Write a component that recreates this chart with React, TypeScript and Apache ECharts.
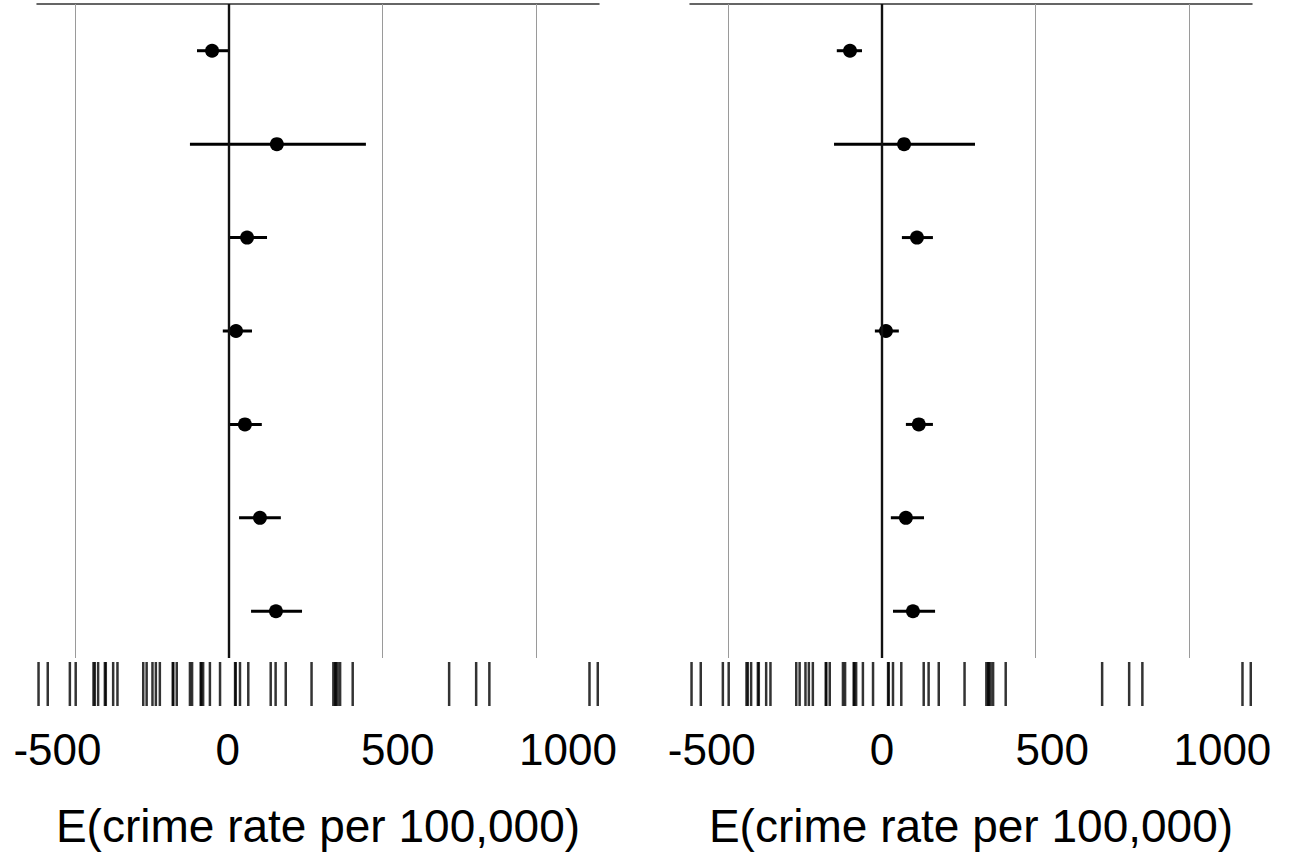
import React, { useEffect, useRef } from "react";
import * as echarts from "echarts";

const rows = ["1", "2", "3", "4", "5", "6", "7"];

const leftEst = [-55, 156, 59, 23, 52, 101, 153];
const leftLo = [-104, -127, 3, -20, 3, 33, 72];
const leftHi = [-3, 446, 124, 75, 107, 169, 238];

const rightEst = [-104, 72, 114, 13, 120, 78, 101];
const rightLo = [-147, -156, 65, -23, 78, 29, 36];
const rightHi = [-65, 303, 166, 55, 166, 137, 173];

const rugValues = [
  -620, -590, -518, -499, -441, -437, -426, -404, -401, -377, -363,
  -279, -268, -249, -238, -225, -183, -181, -170, -127, -120, -92, -90, -84,
  -62, -29, 20, 22, 36, 63, 136, 152, 185, 269,
  340, 346, 348, 354, 362, 403, 717, 805, 848, 1174, 1201,
];

const tickValues = [-500, 0, 500, 1000];
const gridValues = [-500, 500, 1000];
const xMin = -625;
const xMax = 1205;
// the tick-label ruler of the reference sits on a slightly wider scale
const labelMin = [-560, -564];
const labelMax = [1091, 1087];
const axisTitle = "E(crime rate per 100,000)";

const FONT = "Liberation Sans, Arial, sans-serif";

export default function App() {
  const ref = useRef<HTMLDivElement>(null);

  useEffect(() => {
    document.body.style.margin = "0";
    if (!ref.current) return;
    const chart = echarts.init(ref.current, undefined, { renderer: "svg" });

    const panels = [
      { left: 37, est: leftEst, lo: leftLo, hi: leftHi },
      { left: 690, est: rightEst, lo: rightLo, hi: rightHi },
    ];

    const grid: any[] = [];
    const xAxis: any[] = [];
    const yAxis: any[] = [];
    const series: any[] = [];

    panels.forEach((p, i) => {
      const gMain = i * 2;
      const gRug = i * 2 + 1;
      grid.push({ left: p.left, top: 4, width: 562, height: 654 });
      grid.push({ left: p.left, top: 662, width: 562, height: 44 });

      const xMainIdx = xAxis.length;
      xAxis.push({
        gridIndex: gMain,
        type: "value",
        position: "top",
        min: xMin,
        max: xMax,
        axisLine: { show: true, lineStyle: { color: "#333", width: 1.5 } },
        axisTick: { show: false },
        axisLabel: { show: false },
        splitLine: { show: false },
      });
      const xRugIdx = xAxis.length;
      xAxis.push({
        gridIndex: gRug,
        type: "value",
        position: "bottom",
        min: xMin,
        max: xMax,
        axisLine: { show: false },
        axisTick: { show: false },
        splitLine: { show: false },
        axisLabel: { show: false },
      });
      xAxis.push({
        gridIndex: gRug,
        type: "value",
        position: "bottom",
        min: labelMin[i],
        max: labelMax[i],
        axisLine: { show: false },
        axisTick: { show: false },
        splitLine: { show: false },
        axisLabel: {
          show: true,
          customValues: tickValues,
          formatter: (v: number) => String(v),
          fontSize: 44,
          color: "#000",
          fontFamily: FONT,
          margin: 21,
        },
        name: axisTitle,
        nameLocation: "middle",
        nameGap: 97,
        nameTextStyle: { fontSize: 46, color: "#000", fontFamily: FONT },
      });

      const yMainIdx = yAxis.length;
      yAxis.push({
        gridIndex: gMain,
        type: "category",
        data: rows,
        inverse: true,
        show: false,
      });
      const yRugIdx = yAxis.length;
      yAxis.push({
        gridIndex: gRug,
        type: "value",
        min: 0,
        max: 1,
        show: false,
      });

      // reference / grid lines
      series.push({
        type: "scatter",
        xAxisIndex: xMainIdx,
        yAxisIndex: yMainIdx,
        data: [],
        z: 1,
        markLine: {
          silent: true,
          symbol: "none",
          label: { show: false },
          data: [
            ...gridValues.map((v) => ({
              xAxis: v,
              lineStyle: { color: "#9a9a9a", width: 1, type: "solid" },
            })),
            { xAxis: 0, lineStyle: { color: "#111", width: 2.4, type: "solid" } },
          ],
        },
      });

      // error bars
      series.push({
        type: "custom",
        xAxisIndex: xMainIdx,
        yAxisIndex: yMainIdx,
        z: 3,
        data: rows.map((_, k) => [p.lo[k], p.hi[k], k]),
        renderItem: (params: any, api: any) => {
          const a = api.coord([api.value(0), api.value(2)]);
          const b = api.coord([api.value(1), api.value(2)]);
          return {
            type: "line",
            shape: { x1: a[0], y1: a[1], x2: b[0], y2: b[1] },
            style: { stroke: "#000", lineWidth: 3 },
          };
        },
      });

      // point estimates
      series.push({
        type: "scatter",
        xAxisIndex: xMainIdx,
        yAxisIndex: yMainIdx,
        z: 4,
        symbol: "circle",
        symbolSize: 14,
        itemStyle: { color: "#000", opacity: 1 },
        data: rows.map((_, k) => [p.est[k], k]),
      });

      // rug
      series.push({
        type: "custom",
        xAxisIndex: xRugIdx,
        yAxisIndex: yRugIdx,
        z: 2,
        data: rugValues.map((v) => [v]),
        renderItem: (params: any, api: any) => {
          const top = api.coord([api.value(0), 1]);
          const bot = api.coord([api.value(0), 0]);
          return {
            type: "line",
            shape: { x1: top[0], y1: top[1], x2: bot[0], y2: bot[1] },
            style: { stroke: "rgba(0,0,0,0.8)", lineWidth: 2.5 },
          };
        },
      });
    });

    chart.setOption({
      animation: false,
      backgroundColor: "#fff",
      grid,
      xAxis,
      yAxis,
      series,
    });

    return () => chart.dispose();
  }, []);

  return <div ref={ref} style={{ width: 1293, height: 859 }} />;
}
